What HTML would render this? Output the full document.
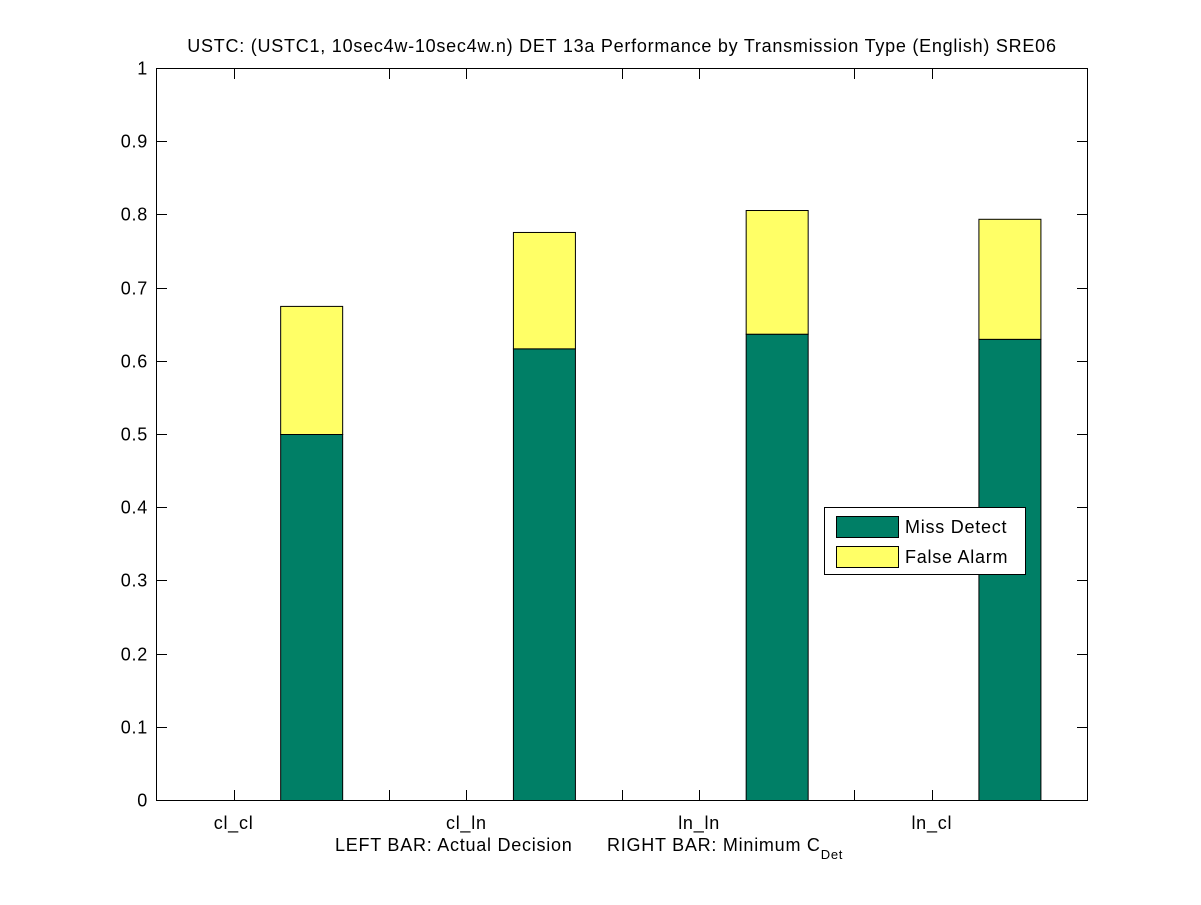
<!DOCTYPE html>
<html><head><meta charset="utf-8"><style>
body{margin:0;background:#fff;}
svg text{font-family:"Liberation Sans",Arial,sans-serif;fill:#000;font-size:18px;letter-spacing:0.75px;}
</style></head><body>
<svg id="chart" width="1201" height="900">
<rect x="0" y="0" width="1201" height="900" fill="#fff"/>
<text x="622" y="52" text-anchor="middle">USTC: (USTC1, 10sec4w-10sec4w.n) DET 13a Performance by Transmission Type (English) SRE06</text>
<g id="bars"></g>
<rect x="156.5" y="68.5" width="931" height="732" fill="none" stroke="#000" stroke-width="1"/>
<g id="axes"></g>
<text x="335" y="851">LEFT BAR: Actual Decision</text>
<text x="607" y="851">RIGHT BAR: Minimum C<tspan style="font-size:13px" dy="8">Det</tspan></text>
<g>
<rect x="824.5" y="507.5" width="201" height="67" fill="#fff" stroke="#000"/>
<rect x="836.5" y="516.5" width="62" height="21" fill="#007f66" stroke="#000"/>
<text x="905" y="533">Miss Detect</text>
<rect x="836.5" y="546.5" width="62" height="21" fill="#ffff66" stroke="#000"/>
<text x="905" y="563">False Alarm</text>
</g>
</svg>
<script>
const categories=["cl_cl","cl_ln","ln_ln","ln_cl"];
const actualMiss=[0,0,0,0];
const actualFA=[0,0,0,0];
const minMiss=[0.5,0.617,0.637,0.630];
const minFA=[0.175,0.159,0.169,0.164];
const yTicks=[0,0.1,0.2,0.3,0.4,0.5,0.6,0.7,0.8,0.9,1];
const yTickLabels=["0","0.1","0.2","0.3","0.4","0.5","0.6","0.7","0.8","0.9","1"];
const NS="http://www.w3.org/2000/svg";
const X0=156,X1=1087,Y0=800,Y1=68,G=(X1-X0)/categories.length;
const y=v=>Y0-(v)*(Y0-Y1);
const xc=i=>X0+G*(i+1/3);
const bw=62;
const bars=document.getElementById('bars'),axes=document.getElementById('axes');
function mk(tag,attrs,parent){const e=document.createElementNS(NS,tag);for(const k in attrs)e.setAttribute(k,attrs[k]);parent.appendChild(e);return e;}
function stack(cx,m,f,i,side){
  if(m>0){const r=mk('rect',{x:cx-bw/2+0.5,y:y(m)+0.5,width:bw,height:y(0)-y(m),fill:'#007f66',stroke:'#000'},bars);
  
  }
  if(f>0){const r=mk('rect',{x:cx-bw/2+0.5,y:y(m+f)+0.5,width:bw,height:y(m)-y(m+f),fill:'#ffff66',stroke:'#000'},bars);
  
  }
}
categories.forEach((c,i)=>{
  stack(xc(i),actualMiss[i],actualFA[i],i,'left');
  stack(xc(i)+G/3,minMiss[i],minFA[i],i,'right');
  [xc(i),xc(i)+2*G/3].forEach(tx=>{
    const px=Math.round(tx)+0.5;
    mk('line',{x1:px,x2:px,y1:800,y2:790,stroke:'#000'},axes);
    mk('line',{x1:px,x2:px,y1:69,y2:79,stroke:'#000'},axes);
  });
  const t=mk('text',{x:xc(i),y:829,'text-anchor':'middle'},axes);
  t.textContent=c;
  
  
});
yTicks.forEach((v,i)=>{
  const py=Math.round(y(v))+0.5;
  mk('line',{x1:157,x2:167,y1:py,y2:py,stroke:'#000'},axes);
  mk('line',{x1:1087,x2:1077,y1:py,y2:py,stroke:'#000'},axes);
  const t=mk('text',{x:148,y:py+6,'text-anchor':'end'},axes);
  t.textContent=yTickLabels[i];
  
  
});
</script>
</body></html>
